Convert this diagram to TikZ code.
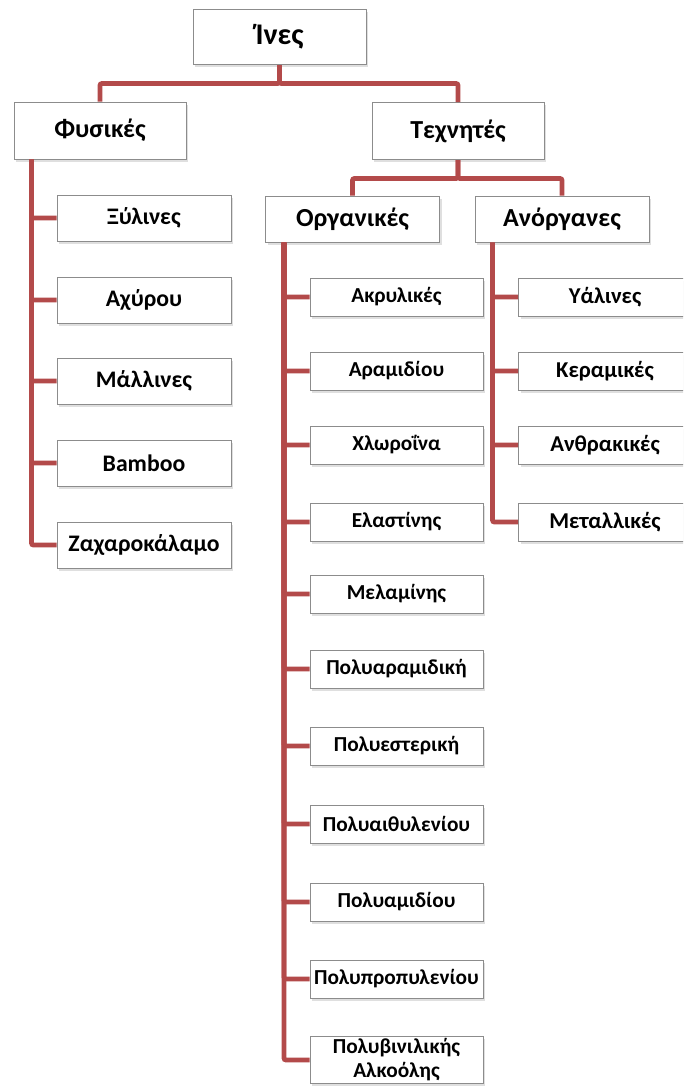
\documentclass[tikz,border=0pt]{standalone}
\usepackage{fontspec}
\setmainfont{Carlito}[BoldFont={* Bold}]
\usetikzlibrary{calc,shadows}
\definecolor{linkred}{HTML}{B34A4A}
\definecolor{frame}{HTML}{8C8C8C}
\tikzset{box/.style={draw=frame,line width=.75pt,fill=white,align=center,inner sep=0pt,
    drop shadow={shadow xshift=1.8pt,shadow yshift=-2pt,opacity=.25}},
  rootbox/.style={box,minimum width=129.75pt,minimum height=41.25pt,font=\fontsize{22.5}{26}\selectfont\bfseries},
  mainbox/.style={box,minimum width=129pt,minimum height=42.75pt,font=\fontsize{19.5}{23}\selectfont\bfseries},
  subbox/.style={box,minimum width=130.5pt,minimum height=34.5pt,font=\fontsize{19.5}{23}\selectfont\bfseries},
  natbox/.style={box,minimum width=130.5pt,minimum height=34.5pt,font=\fontsize{17.8}{21}\selectfont\bfseries},
  leaf/.style={box,minimum width=129.75pt,minimum height=28.5pt,font=\fontsize{16}{18}\selectfont\bfseries},
  inleaf/.style={leaf,font=\fontsize{17}{20}\selectfont\bfseries},
  link/.style={draw=linkred,line width=3.6pt,rounded corners=1.5pt}}

\begin{document}
\begin{tikzpicture}[x=.75pt,y=-.75pt]
\useasboundingbox (0,0) rectangle (683,1086);
\clip (0,0) rectangle (683,1086);
% top levels
\node[rootbox] (ines) at (279.5,37) {Ίνες};
\node[mainbox] (fys) at (100,130.5) {Φυσικές};
\node[mainbox] (tech) at (458,131) {Τεχνητές};
\node[subbox] (org) at (352.5,219) {Οργανικές};
\node[subbox] (anorg) at (562,219) {Ανόργανες};
% natural fibres
\node[natbox] (xyl) at (144,218) {Ξύλινες};
\node[natbox] (ach) at (144,300) {Αχύρου};
\node[natbox] (mal) at (144,381) {Μάλλινες};
\node[natbox] (bam) at (144,463) {Bamboo};
\node[natbox] (zax) at (144,545) {Ζαχαροκάλαμο};
% organic
\node[leaf] (akr) at (396.5,297) {Ακρυλικές};
\node[leaf] (aram) at (396.5,371) {Αραμιδίου};
\node[leaf] (chl) at (396.5,445) {Χλωροΐνα};
\node[leaf] (ela) at (396.5,522) {Ελαστίνης};
\node[leaf] (mel) at (396.5,594) {Μελαμίνης};
\node[leaf] (param) at (396.5,669) {Πολυαραμιδική};
\node[leaf] (pest) at (396.5,746) {Πολυεστερική};
\node[leaf] (pee) at (396.5,824) {Πολυαιθυλενίου};
\node[leaf] (pam) at (396.5,902) {Πολυαμιδίου};
\node[leaf] (ppr) at (396.5,979) {Πολυπροπυλενίου};
\node[leaf,minimum height=35.25pt] (pva) at (396.5,1060) {Πολυβινιλικής\\Αλκοόλης};
% inorganic
\node[inleaf] (yal) at (605,297) {Υάλινες};
\node[inleaf] (ker) at (605,371) {Κεραμικές};
\node[inleaf] (anth) at (605,445) {Ανθρακικές};
\node[inleaf] (met) at (605,522) {Μεταλλικές};
% connectors
\draw[link] (ines.south) -- ++(0,18.5) -| (fys.north);
\draw[link] (ines.south) -- ++(0,18.5) -| (tech.north);
\draw[link] (tech.south) -- ++(0,18.5) -| (org.north);
\draw[link] (tech.south) -- ++(0,18.5) -| (anorg.north);
\foreach \c in {xyl,ach,mal,bam,zax}
  \draw[link] ($(fys.south west)+(18,0)$) |- (\c.west);
\foreach \c in {akr,aram,chl,ela,mel,param,pest,pee,pam,ppr,pva}
  \draw[link] ($(org.south west)+(19,0)$) |- (\c.west);
\foreach \c in {yal,ker,anth,met}
  \draw[link] ($(anorg.south west)+(18,0)$) |- (\c.west);
\end{tikzpicture}
\end{document}
